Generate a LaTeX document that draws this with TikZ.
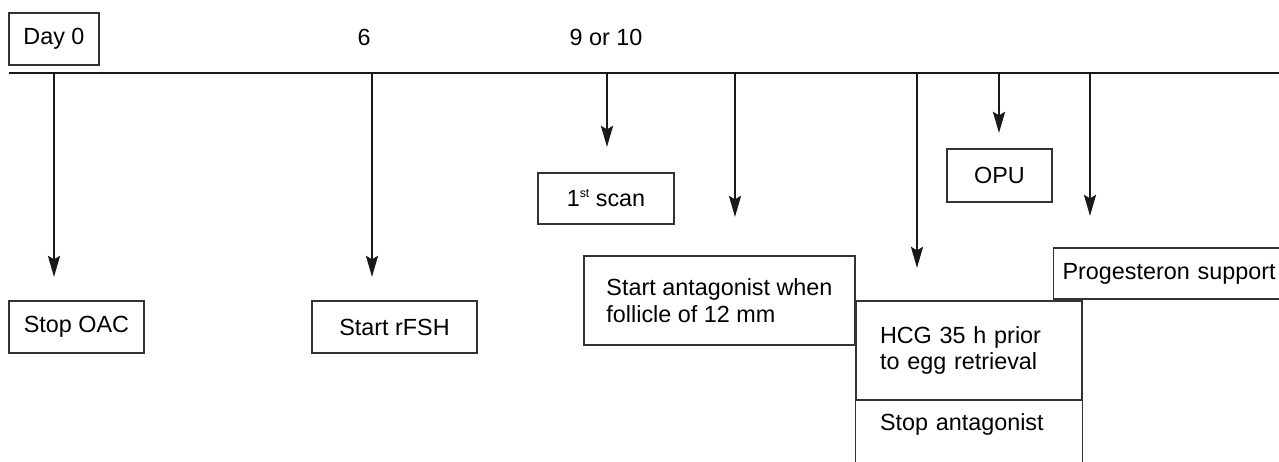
\documentclass[tikz,border=0pt]{standalone}
\usepackage{fontspec}
\setmainfont{Liberation Sans}
\usetikzlibrary{arrows.meta}
\newdimen\px \px=0.02cm
\begin{document}
\begin{tikzpicture}[x=0.02cm,y=-0.02cm,font=\fontsize{13.3}{15.2}\selectfont]
	\tikzstyle{box}=[draw=black!80,line width=0.6pt,inner sep=0pt,minimum height=52\px]
	\tikzstyle{daylabel}=[anchor=base,inner sep=0pt]
	\tikzstyle{boxline}=[draw=black!80,line width=0.6pt]
	\tikzstyle{dayarrow}=[draw,line width=1.6pt,black!90,-{Stealth[length=12pt,width=6.8pt,inset=2pt]}]
	\useasboundingbox (0,0) rectangle (1279,462);
	\clip (0,0) rectangle (1279,462);
	\begin{scope}
		% time line with days
		\node [box,minimum width=90\px] (d0) at (54,39) {Day 0};
		\node [daylabel] (d6) at (364,46) {6};
		\node [daylabel] (d9) at (606,46) {9 or 10};
		\coordinate (tl0) at (9,73);
		\coordinate (tl1) at (1279,73);
		\draw [line width=1.1pt,black!90] (tl0) -- (tl1);
		% arrows
		\coordinate (s1) at (54,73);   \coordinate (e1) at (54,277);
		\coordinate (s2) at (372,73);  \coordinate (e2) at (372,277);
		\coordinate (s3) at (607,73);  \coordinate (e3) at (607,147);
		\coordinate (s4) at (735,73);  \coordinate (e4) at (735,217);
		\coordinate (s5) at (917,73);  \coordinate (e5) at (917,268);
		\coordinate (s6) at (999,73);  \coordinate (e6) at (999,133);
		\coordinate (s7) at (1090,73); \coordinate (e7) at (1090,216);
		\draw [dayarrow] (s1) -- (e1);
		\draw [dayarrow] (s2) -- (e2);
		\draw [dayarrow] (s3) -- (e3);
		\draw [dayarrow] (s4) -- (e4);
		\draw [dayarrow] (s5) -- (e5);
		\draw [dayarrow] (s6) -- (e6);
		\draw [dayarrow] (s7) -- (e7);
		% boxes
		\node [box,minimum width=135\px] (oac) at (76.5,327) {Stop OAC};
		\node [box,minimum width=165\px] (rfsh) at (394.5,327) {Start rFSH};
		\node [box,minimum width=136\px,minimum height=51\px] (scan) at (606,198.5) {1\raisebox{0.75ex}{\fontsize{7}{8}\selectfont st} scan};
		\node [box,minimum width=105\px,minimum height=53\px] (opu) at (999.5,175.5) {OPU};
		\node [box,minimum width=271\px,minimum height=89\px,align=left] (antag) at (719.5,300.5) {Start antagonist when\\follicle of 12 mm};
		\node [box,minimum width=226\px,minimum height=99\px,text width=178\px,align=left] (hcg) at (969,350.5) {HCG 35 h prior\\to egg retrieval};
		\node [minimum width=226\px,minimum height=48\px,text width=178\px,align=left,inner sep=0pt] (stopant) at (969,424) {Stop antagonist};
		\draw [boxline] (stopant.north west) -- ++(0,70);
		\draw [boxline] (stopant.north east) -- ++(0,70);
		\node [box,anchor=west,minimum height=51\px,text width=222\px,inner xsep=9\px,align=left] (prog) at (1053,273.5) {Progesteron support};
	\end{scope}
\end{tikzpicture}
\end{document}
